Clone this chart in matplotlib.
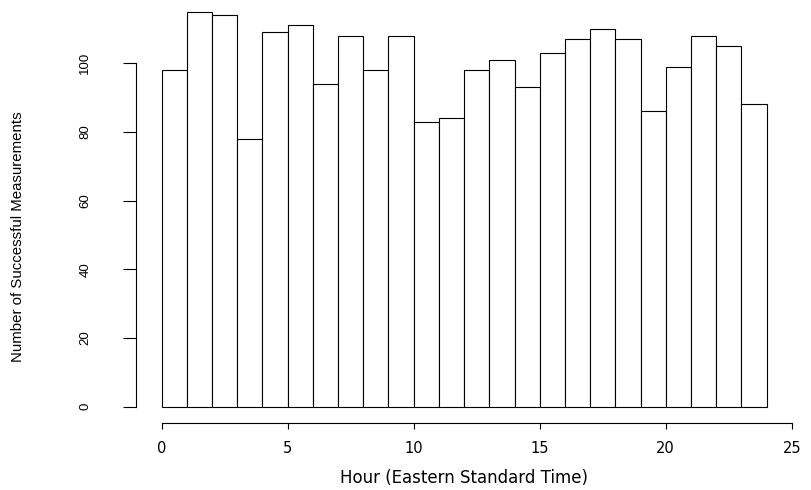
import matplotlib
matplotlib.use("Agg")
import matplotlib.pyplot as plt

# hourly counts, hour bins 0-1, 1-2, ..., 23-24
hours = list(range(24))
counts = [98, 115, 114, 78, 109, 111, 94, 108, 98, 108, 83, 84,
          98, 101, 93, 103, 107, 110, 107, 86, 99, 108, 105, 88]

x_ticks = [0, 5, 10, 15, 20, 25]
y_ticks = [0, 20, 40, 60, 80, 100]

W, H = 812, 490
fig = plt.figure(figsize=(W / 100, H / 100), dpi=100)
fig.patch.set_facecolor("white")

# axes box in pixels: left 136.5, right 791.7, top 0, bottom 422.5
ax = fig.add_axes([136.5 / W, (H - 422.5) / H, (791.7 - 136.5) / W, 422.5 / H])
ax.bar(hours, counts, width=1, align="edge", color="white",
       edgecolor="black", linewidth=0.8)

ax.set_xlim(-1, 25)
ax.set_ylim(-4.6, 118.4)

for side in ("top", "right"):
    ax.spines[side].set_visible(False)
ax.spines["left"].set_bounds(0, 100)
ax.spines["bottom"].set_bounds(0, 25)
for side in ("left", "bottom"):
    ax.spines[side].set_linewidth(0.8)

ax.set_xticks(x_ticks)
ax.set_yticks(y_ticks)
ax.set_xticklabels([str(v) for v in x_ticks], family="DejaVu Sans", fontsize=10.5)
ax.set_yticklabels([str(v) for v in y_ticks], family="Liberation Sans",
                   fontsize=9.5, rotation=90, va="center")
ax.tick_params(axis="x", length=4.3, width=0.8, pad=9)
ax.tick_params(axis="y", length=9.6, width=0.8, pad=23)

# x label centred on the middle of the plotting region (hour 12)
fig.text(464 / W, 1 - 478 / H, "Hour (Eastern Standard Time)",
         family="DejaVu Sans", fontsize=12, ha="center", va="center")
fig.text(17.7 / W, 1 - 236.7 / H, "Number of Successful Measurements",
         family="Liberation Sans", fontsize=10.8, rotation=90,
         ha="center", va="center")

fig.savefig("out.png", dpi=100)
